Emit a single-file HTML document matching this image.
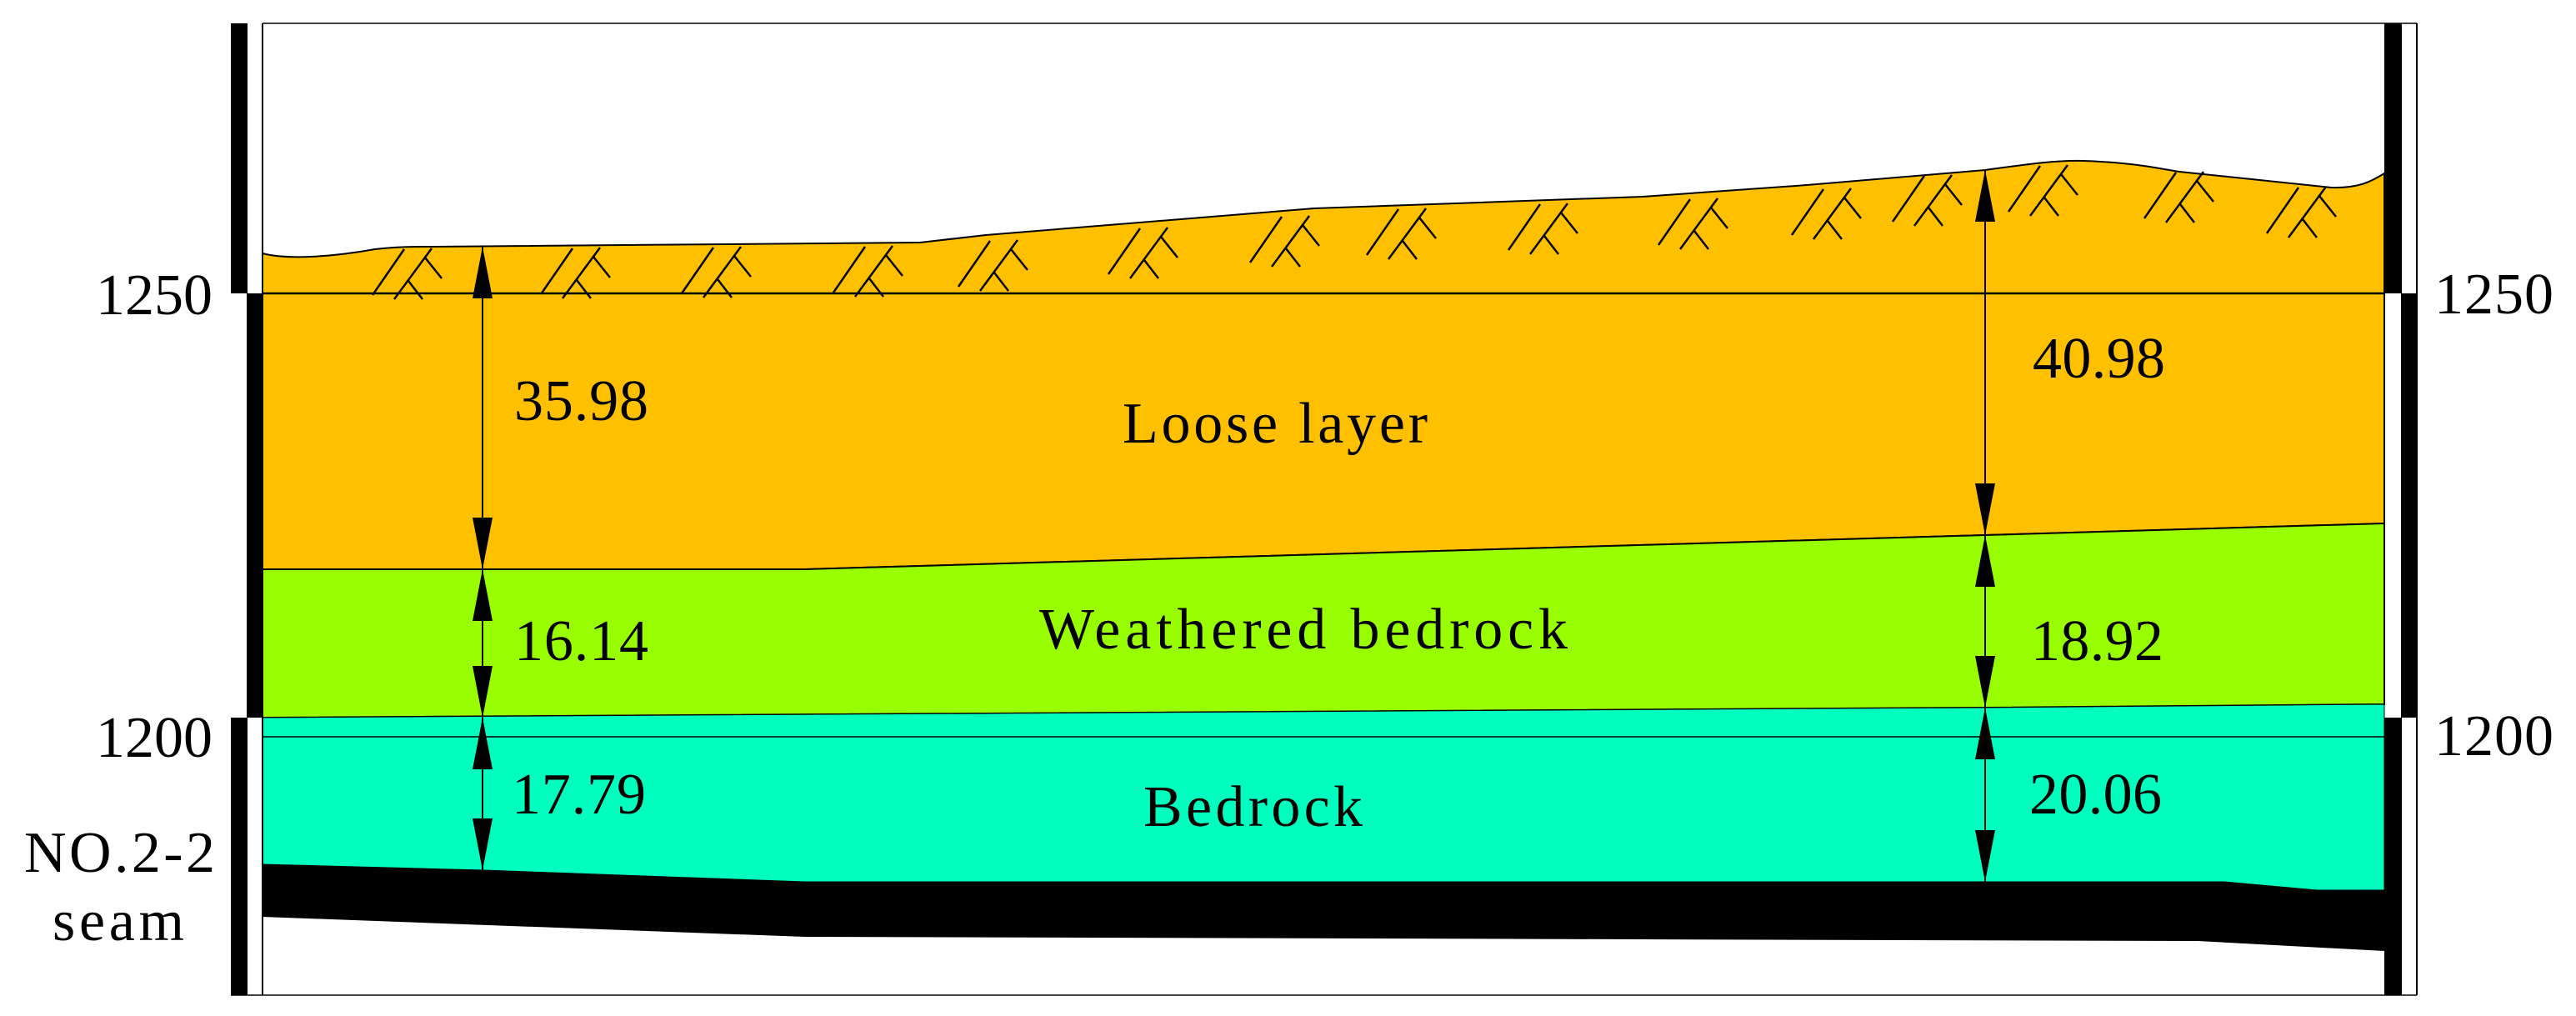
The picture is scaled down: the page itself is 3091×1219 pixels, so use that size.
<!DOCTYPE html>
<html><head><meta charset="utf-8"><style>html,body{margin:0;padding:0;background:#fff}svg{display:block}</style></head>
<body>
<svg width="3091" height="1219" viewBox="0 0 3091 1219" xmlns="http://www.w3.org/2000/svg" font-family="'Liberation Serif', serif" font-size="70">
<!-- Loose layer -->
<path d="M315,304 C345,312 400,308 450,299 C475,296 495,296 520,296 L1104,291 L1183,282 L1577,250 L1971,236 L2168,222 L2382,204 C2440,196 2470,192 2500,193 C2560,195 2590,202 2615,206 L2797,225 C2830,226 2845,218 2861,208 L2861,628 L2382,642 L966,683 L315,683 Z" fill="#FFC000" stroke="#000" stroke-width="2"/>
<!-- Weathered -->
<path d="M315,683 L966,683 L2382,642 L2861,628 L2861,845 L2382,849 L315,861 Z" fill="#99FF00" stroke="#000" stroke-width="2"/>
<!-- Bedrock -->
<path d="M315,861 L2382,849 L2861,845 L2861,1068 L2780,1068 L2669,1058 L966,1058 L580,1044 L315,1037 Z" fill="#00FFBF" stroke="#000" stroke-width="1"/>
<line x1="315" y1="884" x2="2861" y2="884" stroke="#000" stroke-width="1.5"/>
<!-- Coal -->
<path d="M315,1037 L580,1044 L966,1058 L2669,1058 L2780,1068 L2861,1068 L2861,1141 L2637,1129 L966,1124 L315,1100 Z" fill="#000"/>
<!-- 1250 line -->
<line x1="315" y1="352" x2="2861" y2="352" stroke="#000" stroke-width="2.5"/>
<!-- frame -->
<line x1="315" y1="28" x2="2900" y2="28" stroke="#000" stroke-width="1.5"/>
<line x1="277" y1="1194" x2="2900" y2="1194" stroke="#000" stroke-width="1.5"/>
<line x1="315" y1="28" x2="315" y2="1194" stroke="#000" stroke-width="2"/>
<line x1="2900" y1="28" x2="2900" y2="1194" stroke="#000" stroke-width="2"/>
<rect x="277" y="28" width="20" height="324" fill="#000"/>
<rect x="296" y="352" width="19" height="509" fill="#000"/>
<rect x="277" y="861" width="20" height="333" fill="#000"/>
<rect x="2861" y="28" width="21" height="324" fill="#000"/>
<rect x="2881" y="352" width="19" height="509" fill="#000"/>
<rect x="2861" y="861" width="21" height="333" fill="#000"/>
<!-- hatch symbols -->
<defs>
<g id="h" stroke="#000" stroke-width="2.5" fill="none">
<line x1="0" y1="58" x2="38" y2="3"/>
<line x1="26" y1="63" x2="71" y2="2"/>
<line x1="63" y1="13" x2="83" y2="38"/>
<line x1="43" y1="41" x2="60" y2="63"/>
</g>
</defs>
<use href="#h" x="447" y="296"/>
<use href="#h" x="649" y="295"/>
<use href="#h" x="818" y="294"/>
<use href="#h" x="1000" y="293"/>
<use href="#h" x="1150" y="286"/>
<use href="#h" x="1330" y="271"/>
<use href="#h" x="1500" y="257"/>
<use href="#h" x="1640" y="248"/>
<use href="#h" x="1810" y="242"/>
<use href="#h" x="1990" y="236"/>
<use href="#h" x="2150" y="224"/>
<use href="#h" x="2271" y="208"/>
<use href="#h" x="2410" y="196"/>
<use href="#h" x="2573" y="204"/>
<use href="#h" x="2720" y="222"/>
<!-- arrows -->
<g stroke="#000" stroke-width="2">
<line x1="579" y1="296" x2="579" y2="1044"/>
<line x1="2382" y1="204" x2="2382" y2="1058"/>
</g>
<g fill="#000">
<path d="M579,296 l-12,62 h24 Z"/><path d="M579,683 l-12,-62 h24 Z"/>
<path d="M579,683 l-12,62 h24 Z"/><path d="M579,861 l-12,-62 h24 Z"/>
<path d="M579,861 l-12,62 h24 Z"/><path d="M579,1044 l-12,-62 h24 Z"/>
<path d="M2382,204 l-12,62 h24 Z"/><path d="M2382,642 l-12,-62 h24 Z"/>
<path d="M2382,642 l-12,62 h24 Z"/><path d="M2382,849 l-12,-62 h24 Z"/>
<path d="M2382,849 l-12,62 h24 Z"/><path d="M2382,1058 l-12,-62 h24 Z"/>
</g>
<!-- labels -->
<g fill="#000">
<text x="115" y="377" textLength="140">1250</text>
<text x="115" y="908" textLength="140">1200</text>
<text x="29" y="1046" textLength="229">NO.2-2</text>
<text x="63" y="1128" textLength="158">seam</text>
<text x="2921" y="376" textLength="143">1250</text>
<text x="2921" y="906" textLength="143">1200</text>
<text x="617" y="504" textLength="161">35.98</text>
<text x="617" y="792" textLength="161">16.14</text>
<text x="614" y="976" textLength="161">17.79</text>
<text x="2439" y="453" textLength="159">40.98</text>
<text x="2437" y="792" textLength="159">18.92</text>
<text x="2435" y="976" textLength="159">20.06</text>
<text x="1347" y="531" textLength="366">Loose layer</text>
<text x="1247" y="778" textLength="634">Weathered bedrock</text>
<text x="1372" y="991" textLength="263">Bedrock</text>
</g>
</svg>
</body></html>
